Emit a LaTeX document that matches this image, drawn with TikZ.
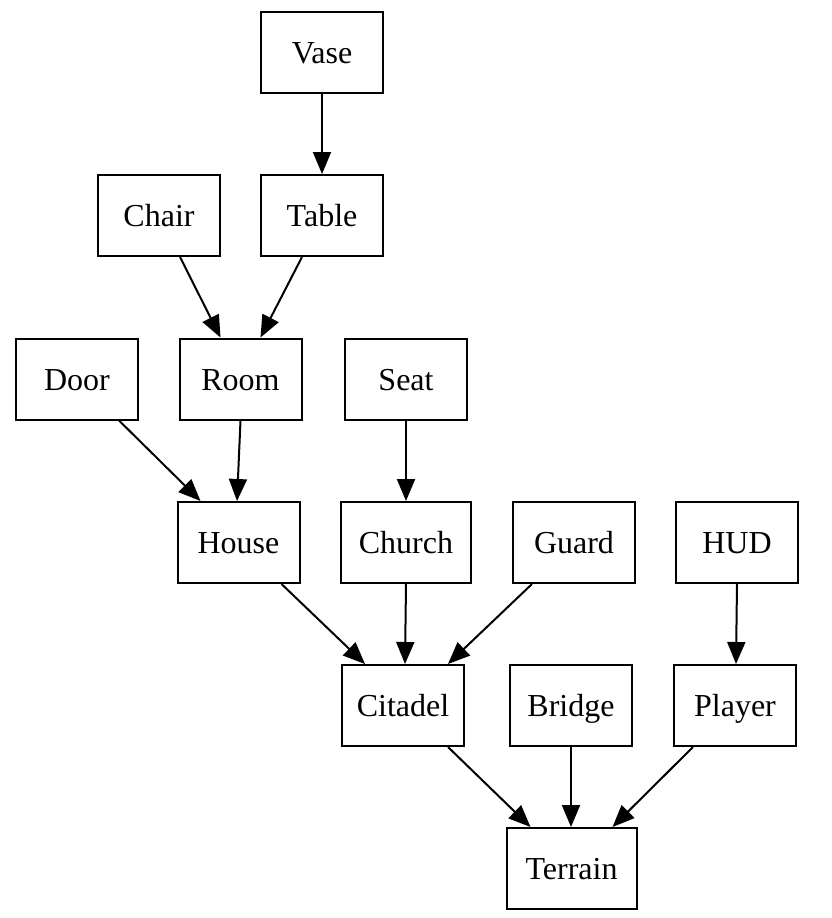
\documentclass[tikz,border=0pt]{standalone}
\usepackage{fontspec}
\setmainfont{Liberation Serif}
\usetikzlibrary{arrows.meta}
\begin{document}
\begin{tikzpicture}[x=1pt,y=1pt,
  box/.style={draw=black,line width=2pt,minimum width=122pt,minimum height=81pt,inner sep=0pt,text height=29pt,text depth=7pt,font=\fontsize{32}{36}\selectfont},
  wide/.style={minimum width=130pt},
  conn/.style={line width=2pt,-{Triangle[length=22pt,width=18pt]}}]
\useasboundingbox (0,0) rectangle (832,-918);
\node[box] (vase) at (322,-52.5) {Vase};
\node[box] (chair) at (159,-215.5) {Chair};
\node[box] (table) at (322,-215.5) {Table};
\node[box] (door) at (77,-379) {Door};
\node[box] (room) at (240.5,-379) {Room};
\node[box] (seat) at (406,-379) {Seat};
\node[box] (house) at (238.5,-542.5) {House};
\node[box,wide] (church) at (406,-542.5) {Church};
\node[box] (guard) at (574,-542.5) {Guard};
\node[box] (hud) at (737,-542.5) {HUD};
\node[box] (citadel) at (403,-705.5) {Citadel};
\node[box] (bridge) at (571,-705.5) {Bridge};
\node[box] (player) at (735,-705.5) {Player};
\node[box,wide] (terrain) at (571.5,-868.5) {Terrain};
\draw[conn] (vase.south) -- (table.north);
\draw[conn] ([xshift=21pt]chair.south) -- ([xshift=-20pt]room.north);
\draw[conn] ([xshift=-20pt]table.south) -- ([xshift=20pt]room.north);
\draw[conn] ([xshift=42pt]door.south) -- ([xshift=-38pt]house.north);
\draw[conn] (room.south) -- ([xshift=-1.5pt]house.north);
\draw[conn] (seat.south) -- (church.north);
\draw[conn] ([xshift=43pt]house.south) -- ([xshift=-38pt]citadel.north);
\draw[conn] (church.south) -- ([xshift=2pt]citadel.north);
\draw[conn] ([xshift=-42pt]guard.south) -- ([xshift=45pt]citadel.north);
\draw[conn] (hud.south) -- ([xshift=1pt]player.north);
\draw[conn] ([xshift=45pt]citadel.south) -- ([xshift=-41pt]terrain.north);
\draw[conn] (bridge.south) -- ([xshift=-0.5pt]terrain.north);
\draw[conn] ([xshift=-42pt]player.south) -- ([xshift=41pt]terrain.north);
\end{tikzpicture}
\end{document}
